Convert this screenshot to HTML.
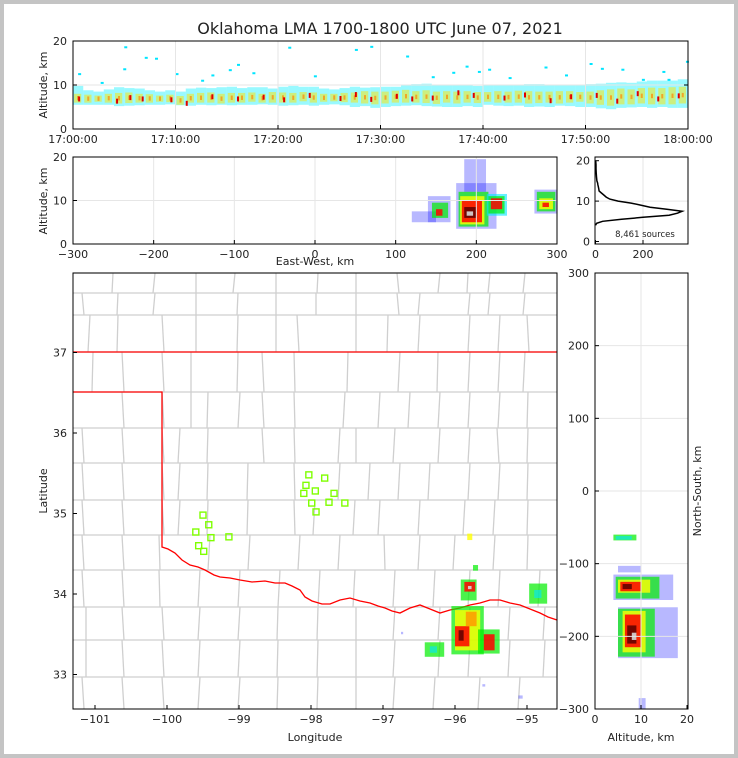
<!DOCTYPE html>
<html><head><meta charset="utf-8"><style>
body{margin:0;background:#fff;}
#wrap{position:relative;width:738px;height:758px;box-sizing:border-box;border:4px solid #c4c4c4;background:#fff;}
svg text{font-family:"DejaVu Sans","Liberation Sans",sans-serif;fill:#222;}
</style></head><body>
<div id="wrap">
<svg id="s" width="730" height="750" viewBox="4 4 730 750" style="position:absolute;left:0;top:0"></svg>
</div>
<script>
// ---------- data ----------
const timeTicks=["17:00:00","17:10:00","17:20:00","17:30:00","17:40:00","17:50:00","18:00:00"];
const minutes=[0,1,2,3,4,5,6,7,8,9,10,11,12,13,14,15,16,17,18,19,20,21,22,23,24,25,26,27,28,29,30,31,32,33,34,35,36,37,38,39,40,41,42,43,44,45,46,47,48,49,50,51,52,53,54,55,56,57,58,59];
const bandLo=[5.5,5.5,5.5,5.5,5.2,5.3,5.4,5.5,5.5,5.6,5.4,5.3,5.5,5.4,5.5,5.4,5.5,5.5,5.6,5.5,5.3,5.4,5.5,5.3,5.5,5.6,5.4,5.0,5.2,4.8,5.0,5.2,5.3,5.4,5.2,5.1,5.0,5.0,5.2,5.0,5.5,5.3,5.2,5.3,5.0,5.1,5.0,5.3,5.2,5.0,5.0,4.7,4.5,4.8,4.9,5.0,4.8,5.0,4.8,4.8];
const bandHi=[9.8,8.8,8.5,9,9.5,9.3,9.2,8.8,8.5,8.8,8.5,9.2,9.4,9.3,9.5,9.6,9.3,9.5,9.5,9.2,9.6,9.8,9.6,9.6,9.2,9.0,9.3,9.6,9.4,9.5,9.6,9.6,10,10.2,10.3,10,10.1,10.1,10,9.8,10,9.9,10,10.1,10.2,10.2,10.1,10,10.1,10,10.2,10.3,10.5,10.6,10.5,10.8,11,11,11,11.3];
const coreLo=[6,6,6.2,6,5.8,5.9,6,6,6.2,6.1,5.5,6,6,6,5.8,6,6,6.2,6,6,6,6,6.3,6,6.2,6.3,6.1,6,5.8,5.6,5.8,6,6,6,5.9,5.7,6,5.8,6,5.9,6.2,6,6,6,5.8,5.9,6,5.8,6,6.2,5.8,5.5,5.3,5.6,5.6,5.8,5.6,5.6,5.6,5.8];
const coreHi=[8,7.8,7.6,8,8.2,8.3,8,7.9,7.6,7.8,7.5,8,8.2,8.3,8,8.2,8.2,8.3,8,8.4,8.3,8.2,8.4,8.3,8,8,8.2,8.3,8.6,8.5,8.5,8.7,8.9,8.6,8.8,8.5,8.6,8.5,8.6,8.4,8.4,8.6,8.5,8.7,8.6,8.5,8.5,8.6,8.6,8.4,8.5,8.8,9,9.2,9,9.3,9.4,9.3,9.5,9.6];
const redSpecks=[[0.5,7],[4.2,6.5],[5.5,7.3],[6.7,7],[9.5,6.8],[11,6],[13.5,7.5],[16,7],[18.5,7.4],[20.5,6.8],[23,7.8],[26,7.1],[27.5,8],[29,6.9],[31.5,7.6],[33,7],[35,7.2],[37.5,8.4],[39,7.8],[42,7.2],[44,7.9],[46.5,6.6],[48.5,7.5],[51,7.8],[53,6.5],[55,8.2],[57,7],[59,7.7]];
const cyanSpecks=[[0.5,12.5],[2.7,10.5],[4.9,13.6],[5,18.6],[7,16.2],[8,16],[10,12.5],[12.5,11],[13.5,12.2],[15.2,13.4],[16,14.6],[17.5,12.7],[21,18.5],[23.5,12],[27.5,18],[29,18.7],[32.5,16.5],[35,11.8],[37,12.8],[38.3,14.2],[39.5,13],[40.5,13.5],[42.5,11.6],[46,14],[48,12.2],[50.4,14.8],[51.5,13.7],[53.5,13.5],[55.5,11.2],[57.5,13],[59.8,15.3],[58,11.2]];
const ewTicks=[-300,-200,-100,0,100,200,300];
// East-West vs altitude cells: [x0 km, alt0, x1 km, alt1, densityLevel]
const ewCells=[[120,5,150,7.5,1],[140,5,168,11,1],[145,6,165,9.5,3],[150,6.5,158,8,6],[175,3.5,225,14,1],[185,12,212,19.5,1],[178,4,215,12,3],[180,4.5,210,11,4],[182,5,207,10,6],[185,6,200,8.5,7],[188,6.5,196,7.5,8],[213,6.5,238,11.5,2],[215,7,235,11,3],[218,8,232,10.5,6],[272,7,300,12.5,1],[275,7.5,298,12,3],[278,8,295,10.5,4],[282,8.5,290,9.5,6]];
const histAlt=[4,4.5,5,5.5,6,6.5,7,7.5,8,8.5,9,9.5,10,10.5,11,11.5,12,12.5,13,13.5,14,14.5,15,16,17,18,19,20];
const histCount=[0,5,30,110,200,310,345,365,300,230,190,150,95,60,45,35,25,15,14,12,10,9,6,4,3,2,2,1];
const lonTicks=[-101,-100,-99,-98,-97,-96,-95];
const latTicks=[33,34,35,36,37];
// map cells: [lon0, lat0, lon1, lat1, level]
const mapCells=[[-96.05,33.25,-95.6,33.85,3],[-96.0,33.3,-95.65,33.8,4],[-96.0,33.35,-95.8,33.6,6],[-95.95,33.42,-95.88,33.55,7],[-95.85,33.6,-95.7,33.78,5],[-95.68,33.26,-95.38,33.56,3],[-95.6,33.3,-95.45,33.5,6],[-96.42,33.22,-96.15,33.4,3],[-96.35,33.27,-96.25,33.35,2],[-95.92,33.92,-95.7,34.18,3],[-95.87,34.03,-95.72,34.15,6],[-95.82,34.06,-95.77,34.1,8],[-94.97,33.88,-94.72,34.13,3],[-94.9,33.95,-94.8,34.05,2],[-95.83,34.67,-95.76,34.75,4],[-95.75,34.29,-95.68,34.36,3],[-96.75,33.5,-96.72,33.53,1],[-95.62,32.85,-95.58,32.88,1],[-95.12,32.7,-95.06,32.74,1]];
const stations=[[-99.5,34.98],[-99.42,34.86],[-99.6,34.77],[-99.39,34.70],[-99.56,34.60],[-99.49,34.53],[-99.14,34.71],[-98.03,35.48],[-97.81,35.44],[-98.07,35.35],[-98.10,35.25],[-97.94,35.28],[-97.68,35.25],[-97.99,35.13],[-97.75,35.14],[-97.53,35.13],[-97.93,35.02]];
const nsTicks=[-300,-200,-100,0,100,200,300];
// NS vs altitude cells: [alt0, ns0, alt1, ns1, level]
const nsCells=[[4,-150,17,-115,1],[4.5,-148,14,-118,3],[5,-140,12,-122,4],[5.5,-138,10,-125,6],[6,-135,8,-128,7],[5,-230,18,-160,1],[5,-228,13,-162,3],[6,-222,11,-165,4],[6.5,-215,10,-170,6],[7,-210,9,-185,7],[8,-205,9,-195,8],[4,-68,9,-60,3],[4.5,-67,8,-62,2],[5,-112,10,-103,1],[9.5,-300,11,-285,1]];
const levelColors=["#fff","#0000ff","#00e5ff","#00ee00","#ffff00","#ff9900","#ff0000","#5a0000","#d8d8d8"];
const levelAlpha=[0,0.28,0.6,0.7,0.8,0.85,0.85,0.85,0.9];
// ---------- helpers ----------
const S=document.getElementById('s');const NS='http://www.w3.org/2000/svg';
function mk(tag,attrs,parent){const e=document.createElementNS(NS,tag);for(const k in attrs)e.setAttribute(k,attrs[k]);(parent||S).appendChild(e);return e;}
function txt(x,y,t,anchor,size,parent,rot){const e=mk('text',{x:x,y:y,'text-anchor':anchor||'middle','font-size':size||11},parent);if(rot)e.setAttribute('transform','rotate(-90 '+x+' '+y+')');e.textContent=t;return e;}
function lin(d0,d1,p0,p1){return v=>p0+(v-d0)*(p1-p0)/(d1-d0);}
function frame(x0,y0,x1,y1){const r=mk('rect',{x:x0,y:y0,width:x1-x0,height:y1-y0,fill:'none',stroke:'#000','stroke-width':1});}
function tick(x,y,dx,dy){mk('line',{x1:x,y1:y,x2:x+dx,y2:y+dy,stroke:'#000','stroke-width':1});}
function grid(x1,y1,x2,y2){mk('line',{x1:x1,y1:y1,x2:x2,y2:y2,stroke:'#e6e6e6','stroke-width':1});}

// title
const t=txt(380,34,"Oklahoma LMA 1700-1800 UTC June 07, 2021",'middle',16);


// ---------- top panel: time vs altitude ----------
{const X=lin(0,60,73,688),Y=lin(0,20,129,41);
const g=mk('g',{});
for(let i=1;i<6;i++)grid(X(i*10),41,X(i*10),129);grid(73,Y(10),688,Y(10));
minutes.forEach((m,i)=>{
 const b=mk('rect',{x:X(m),y:Y(bandHi[i]),width:X(m+1)-X(m),height:Y(bandLo[i])-Y(bandHi[i]),fill:'#00f0ff',opacity:0.4},g);
 
 const c=mk('rect',{x:X(m)+1,y:Y(coreHi[i]),width:X(m+1)-X(m)-3,height:Y(coreLo[i])-Y(coreHi[i]),fill:'#ffe600',opacity:0.5},g);
 
 const o=mk('rect',{x:X(m)+4,y:Y((coreHi[i]+coreLo[i])/2+0.5),width:2,height:Y(0)-Y(1),fill:'#ff8800',opacity:0.7},g);
 
});
redSpecks.forEach(p=>{const r=mk('rect',{x:X(p[0]),y:Y(p[1]+0.4),width:2,height:5,fill:'#e00000'},g);});
cyanSpecks.forEach(p=>{const r=mk('rect',{x:X(p[0]),y:Y(p[1]+0.2),width:3,height:2,fill:'#00e5ff'},g);});
frame(73,41,688,129);
[0,10,20].forEach(v=>{tick(73,Y(v),4,0);tick(688,Y(v),-4,0);const l=txt(67,Y(v)+4,v,'end',11);});
timeTicks.forEach((s,i)=>{tick(X(i*10),129,0,-4);const l=txt(X(i*10),143,s,'middle',11);});
const a=txt(47,85,"Altitude, km",'middle',11,null,true);}

function cells(arr,X,Y,g,name){arr.forEach(c=>{
 const x0=X(c[0]),x1=X(c[2]),y0=Y(c[1]),y1=Y(c[3]);
 const r=mk('rect',{x:Math.min(x0,x1),y:Math.min(y0,y1),width:Math.abs(x1-x0),height:Math.abs(y1-y0),fill:levelColors[c[4]],opacity:levelAlpha[c[4]]},g);
 });}

// ---------- middle: east-west vs altitude ----------
{const X=lin(-300,300,73,557),Y=lin(0,20,244,157);
const g=mk('g',{});
ewTicks.forEach(v=>grid(X(v),157,X(v),244));grid(73,Y(10),557,Y(10));
cells(ewCells,X,Y,g,'ew-source-cell');
frame(73,157,557,244);
[0,10,20].forEach(v=>{tick(73,Y(v),4,0);const l=txt(67,Y(v)+4,v,'end',11);});
ewTicks.forEach(v=>{tick(X(v),244,0,-4);const l=txt(X(v),258,v<0?'\u2212'+(-v):v,'middle',11);});
const a=txt(47,201,"Altitude, km",'middle',11,null,true);
const b=txt(315,265,"East-West, km",'middle',11);}

// ---------- histogram ----------
{const X=lin(0,200,595.5,643),Y=lin(0,20,241.5,160.7);
grid(X(200),157,X(200),244);grid(595,Y(10),688,Y(10));
let d='';histAlt.forEach((a,i)=>{d+=(i?'L':'M')+X(histCount[i]).toFixed(1)+' '+Y(a).toFixed(1);});
const p=mk('path',{d:d,fill:'none',stroke:'#000','stroke-width':1.5});
frame(595,157,688,244);
[0,10,20].forEach(v=>{tick(595,Y(v),4,0);const l=txt(590,Y(v)+4,v,'end',11);});
[0,200].forEach(v=>{tick(X(v),244,0,-4);const l=txt(X(v),258,v,'middle',11);});
const n=txt(645,237,"8,461 sources",'middle',8.5);}

// ---------- map ----------
{const X=lin(-96,-95,455,527),Y=lin(34,33,594,674.5);
const g=mk('g',{});
const rows=[[273,293,[113,155,196,235,276,318,356,397,440,468,490,525]],[293,315,[82,118,155,196,238,276,316,356,397,420,470,490,525]],[315,352,[90,118,162,196,238,276,297,356,388,420,470,500,527]],[352,392,[93,122,162,191,238,262,294,348,400,438,470,500,525]],[392,428,[122,162,191,208,240,262,294,345,380,410,440,470,500,528]],[428,463,[82,122,162,180,208,262,294,340,356,395,440,470,497,528]],[463,500,[82,122,162,180,208,248,294,340,370,400,430,470,500,528]],[500,535,[82,122,162,180,208,248,294,315,355,380,420,465,495,528]],[535,570,[82,122,159,210,250,300,340,384,420,455,495,528]],[570,607,[82,122,159,200,240,280,320,355,395,435,470,500,540]],[607,640,[86,122,162,200,240,278,318,356,395,440,470,510,545]],[640,677,[86,122,162,200,240,278,318,356,395,440,470,510,545]],[677,709,[82,122,162,200,240,278,318,356,395,435,480,520]]];
rows.forEach(r=>{const l=mk('line',{x1:73,y1:r[0],x2:557,y2:r[0],stroke:'#cfcfcf','stroke-width':1.3},g);
 r[2].forEach(x=>{const v=mk('line',{x1:x,y1:r[0],x2:x+((x*7)%5-2),y2:r[1],stroke:'#cfcfcf','stroke-width':1.3},g);});});
const border=mk('polyline',{points:"73,352 557,352",fill:'none',stroke:'#ff0000','stroke-width':1.3},g);
const rr=mk('polyline',{points:"73,392 162,392 162,547 168,549 175,553 182,560 190,565 198,567 205,570 214,575 220,577 230,578 240,580 252,582 265,581 275,583 285,583 292,586 300,590 305,597 312,601 322,604 330,604 340,600 350,598 360,601 370,603 378,606 385,608 392,611 400,613 410,608 420,605 430,609 440,613 450,610 460,608 470,605 480,603 490,600 500,600 510,603 520,605 530,609 540,613 548,617 557,620",fill:'none',stroke:'#ff0000','stroke-width':1.3},g);
cells(mapCells,X,Y,g,'map-source-cell');
stations.forEach(s=>{const r=mk('rect',{x:X(s[0])-3,y:Y(s[1])-3,width:6,height:6,fill:'none',stroke:'#7fff00','stroke-width':1.4},g);});
frame(73,273,557,709);
latTicks.forEach(v=>{tick(73,Y(v),4,0);const l=txt(67,Y(v)+4,v,'end',11);});
lonTicks.forEach(v=>{tick(X(v),709,0,-4);const l=txt(X(v),723,'\u2212'+(-v),'middle',11);});
const a=txt(47,491,"Latitude",'middle',11,null,true);
const b=txt(315,741,"Longitude",'middle',11);}

// ---------- right: altitude vs north-south ----------
{const X=lin(0,20,595,687),Y=lin(300,-300,273,709);
const g=mk('g',{});
grid(X(10),273,X(10),709);nsTicks.forEach(v=>grid(595,Y(v),688,Y(v)));
cells(nsCells,X,Y,g,'ns-source-cell');
frame(595,273,688,709);
nsTicks.forEach(v=>{tick(595,Y(v),4,0);const l=txt(589,Y(v)+4,v<0?'\u2212'+(-v):v,'end',11);});
[0,10,20].forEach(v=>{tick(X(v),709,0,-4);const l=txt(X(v),723,v,'middle',11);});
const a=txt(701,491,"North-South, km",'middle',11,null,true);
const b=txt(641,741,"Altitude, km",'middle',11);}
</script>
</body></html>
